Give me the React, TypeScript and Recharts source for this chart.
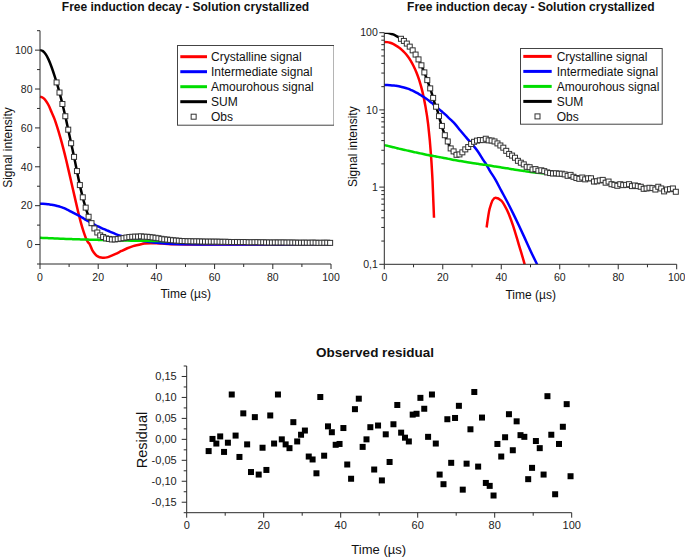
import React from "react";
import { ComposedChart, Line, Scatter, XAxis, YAxis } from "recharts";

const FONT = '"Liberation Sans", Arial, sans-serif';
const AXIS = "#2b2b2b";

// fitted curves, sampled in µs
const time = [
  0, 1, 2, 3, 4, 5, 6, 7, 8, 9, 10, 11, 12, 13, 14, 15, 16, 16.5, 17, 18, 19, 20, 21, 22, 23, 24,
  26, 28, 30, 32, 34, 35, 36, 38, 40, 42, 44, 46, 48, 50, 55, 60, 65, 70, 75, 80, 85, 90, 95, 100,
];
const crystalline = [
  76, 75.5, 74, 71.5, 68, 64.5, 60, 55, 49.5, 43.5, 37, 30.5, 24, 17.5, 11.5, 6.5, 2.5, 1.2, 0.4, -3,
  -5, -6.2, -6.7, -6.8, -6.6, -6.1, -4.8, -3.3, -1.9, -0.8, -0.1, 0.3, 0.52, 0.73, 0.67, 0.5, 0.32,
  0.18, 0.1, 0.05, 0.01, 0, 0, 0, 0, 0, 0, 0, 0, 0,
];
const intermediate = [
  21, 21, 20.9, 20.7, 20.5, 20.2, 19.8, 19.4, 18.9, 18.2, 17.5, 16.7, 15.9, 15.1, 14.3, 13.4, 12.5,
  12.1, 11.6, 10.8, 10, 9.3, 8.6, 7.9, 7.3, 6.7, 5.4, 4.4, 3.6, 2.9, 2.2, 1.93, 1.65, 1.25, 0.9, 0.65,
  0.46, 0.32, 0.22, 0.15, 0.06, 0.02, 0.01, 0.005, 0, 0, 0, 0, 0, 0,
];
const amorphous = [
  3.5, 3.43, 3.36, 3.29, 3.22, 3.15, 3.09, 3.03, 2.97, 2.91, 2.85, 2.8, 2.75, 2.7, 2.65, 2.6, 2.56,
  2.54, 2.52, 2.48, 2.44, 2.4, 2.36, 2.32, 2.28, 2.24, 2.18, 2.12, 2.05, 2.0, 1.95, 1.93, 1.9, 1.85,
  1.8, 1.75, 1.7, 1.65, 1.61, 1.57, 1.5, 1.43, 1.35, 1.26, 1.18, 1.1, 1.04, 0.99, 0.95, 0.91,
];
const sumFit = [
  100, 99.5, 97.8, 95, 91.2, 86.8, 82, 76.5, 70.5, 64, 57, 50, 43, 35.5, 28.5, 22.5, 17.5, 15.2, 13,
  10.2, 7.5, 5.6, 4.4, 3.6, 3.0, 2.7, 2.7, 3.1, 3.7, 4.1, 4.15, 4.12, 4.05, 3.85, 3.4, 2.9, 2.45,
  2.15, 1.92, 1.77, 1.56, 1.45, 1.36, 1.27, 1.18, 1.1, 1.04, 0.99, 0.95, 0.91,
];

// observed points and residual
const obsTime = [
  5.7, 6.7, 7.7, 8.7, 9.7, 10.7, 11.7, 12.7, 13.7, 14.7, 15.7, 16.7, 17.7, 18.7, 19.7, 20.7, 21.7,
  22.7, 23.7, 24.7, 25.7, 26.7, 27.7, 28.7, 29.7, 30.7, 31.7, 32.7, 33.7, 34.7, 35.7, 36.7, 37.7,
  38.7, 39.7, 40.7, 41.7, 42.7, 43.7, 44.7, 45.7, 46.7, 47.7, 48.7, 49.7, 50.7, 51.7, 52.7, 53.7,
  54.7, 55.7, 56.7, 57.7, 58.7, 59.7, 60.7, 61.7, 62.7, 63.7, 64.7, 65.7, 66.7, 67.7, 68.7, 69.7,
  70.7, 71.7, 72.7, 73.7, 74.7, 75.7, 76.7, 77.7, 78.7, 79.7, 80.7, 81.7, 82.7, 83.7, 84.7, 85.7,
  86.7, 87.7, 88.7, 89.7, 90.7, 91.7, 92.7, 93.7, 94.7, 95.7, 96.7, 97.7, 98.7, 99.7,
];
const observed = [
  83.4, 78.2, 72.3, 66, 59.1, 52.1, 45.1, 37.8, 30.6, 24.3, 19, 14.3, 11.0, 8.3, 6.2, 4.7, 3.9, 3.17,
  2.9, 2.62, 2.65, 2.82, 3.08, 3.3, 3.62, 3.86, 4.0, 4.07, 4.06, 4.23, 4.03, 4.01, 3.9, 3.68, 3.46,
  3.24, 2.95, 2.69, 2.56, 2.4, 2.19, 2.07, 1.97, 1.83, 1.81, 1.69, 1.71, 1.63, 1.65, 1.61, 1.55, 1.52,
  1.5, 1.51, 1.49, 1.49, 1.46, 1.4, 1.44, 1.36, 1.31, 1.28, 1.33, 1.26, 1.3, 1.3, 1.18, 1.19, 1.22,
  1.24, 1.14, 1.18, 1.09, 1.07, 1.04, 1.09, 1.06, 1.07, 1.09, 1.03, 1.05, 1.03, 1.01, 0.95, 0.96,
  0.98, 0.97, 0.93, 1.01, 0.96, 0.88, 0.93, 0.94, 0.96, 0.87,
];
const residual = [
  -0.028, 0.001, -0.01, 0.007, -0.03, -0.008, 0.107, 0.009, -0.042, 0.062, -0.012, -0.078, 0.053,
  -0.084, -0.02, -0.073, 0.057, -0.01, 0.107, 0.0, -0.012, -0.021, 0.041, -0.005, 0.011, 0.021,
  -0.041, -0.048, -0.081, 0.101, -0.039, 0.031, 0.017, -0.013, -0.011, 0.027, -0.06, -0.094, 0.072,
  0.097, -0.018, 0.0, 0.029, -0.072, 0.033, -0.098, 0.012, -0.054, 0.036, 0.082, 0.016, 0.004,
  -0.005, 0.059, 0.061, 0.099, 0.073, 0.006, 0.107, -0.01, -0.084, -0.107, 0.048, -0.056, 0.051,
  0.08, -0.12, -0.058, 0.024, 0.113, -0.065, 0.052, -0.104, -0.111, -0.134, -0.011, -0.041, 0.005,
  0.06, -0.026, 0.043, 0.01, 0.006, -0.095, -0.068, -0.004, -0.021, -0.084, 0.103, 0.011, -0.131,
  -0.011, 0.03, 0.084, -0.088,
];

// ticks
const timeTicks = [0, 10, 20, 30, 40, 50, 60, 70, 80, 90, 100];
const timeMajors = [0, 20, 40, 60, 80, 100];
const linTicks = [-10, 0, 10, 20, 30, 40, 50, 60, 70, 80, 90, 100, 110];
const linMajors = [0, 20, 40, 60, 80, 100];
const logTicks = [
  0.1, 0.2, 0.3, 0.4, 0.5, 0.6, 0.7, 0.8, 0.9, 1, 2, 3, 4, 5, 6, 7, 8, 9, 10, 20, 30, 40, 50, 60,
  70, 80, 90, 100,
];
const logMajors = [0.1, 1, 10, 100];
const resTicks = [
  -0.175, -0.15, -0.125, -0.1, -0.075, -0.05, -0.025, 0, 0.025, 0.05, 0.075, 0.1, 0.125, 0.15, 0.175,
];
const resMajors = [-0.15, -0.1, -0.05, 0, 0.05, 0.1, 0.15];

const series = [
  { key: "cryst", name: "Crystalline signal", color: "#ff0000" },
  { key: "inter", name: "Intermediate signal", color: "#0000ff" },
  { key: "amor", name: "Amourohous signal", color: "#00dd00" },
  { key: "sum", name: "SUM", color: "#000000" },
];

const curveRows = time.map((t, i) => ({
  t,
  cryst: crystalline[i],
  inter: intermediate[i],
  amor: amorphous[i],
  sum: sumFit[i],
}));
const pos = (v: number) => (v > 0 ? v : null);
const logRows = curveRows.map((r) => ({
  t: r.t,
  cryst: pos(r.cryst),
  inter: pos(r.inter),
  amor: pos(r.amor),
  sum: pos(r.sum),
}));
const obsRows = obsTime.map((t, i) => ({ t, obs: observed[i] }));
const residRows = obsTime.map((t, i) => ({ t, res: residual[i] }));

const commaNum = (v: number, digits?: number) =>
  (digits === undefined ? String(v) : v.toFixed(digits)).replace(".", ",");

function bottomTick(majors: number[], fontSize: number) {
  return (props: any) => {
    const { x, y, payload } = props;
    const major = majors.includes(payload.value);
    return (
      <g>
        <line x1={x} x2={x} y1={y} y2={y + (major ? 5 : 3)} stroke={AXIS} />
        {major && (
          <text x={x} y={y + 16.5} textAnchor="middle" fontSize={fontSize} fontFamily={FONT} fill="#222">
            {String(payload.value)}
          </text>
        )}
      </g>
    );
  };
}

function leftTick(majors: number[], fontSize: number, gap: number, fmt: (v: number) => string) {
  return (props: any) => {
    const { x, y, payload } = props;
    const major = majors.includes(payload.value);
    return (
      <g>
        <line x1={x} x2={x - (major ? 5 : 3)} y1={y} y2={y} stroke={AXIS} />
        {major && (
          <text
            x={x - gap}
            y={y + fontSize * 0.36}
            textAnchor="end"
            fontSize={fontSize}
            fontFamily={FONT}
            fill="#222"
          >
            {fmt(payload.value)}
          </text>
        )}
      </g>
    );
  };
}

const ObsSquare = (p: any) => (
  <rect x={p.cx - 2.5} y={p.cy - 2.5} width={5} height={5} fill="#fff" stroke="#333" strokeWidth={1} />
);
const ResSquare = (p: any) => <rect x={p.cx - 3} y={p.cy - 3} width={6} height={6} fill="#000" />;

function LegendBox({ left, top, width, height, rowTop, lineX0, lineX1, textX }: any) {
  const rows = [...series.map((s) => ({ name: s.name, color: s.color, obs: false })), { name: "Obs", color: "#333", obs: true }];
  return (
    <svg style={{ position: "absolute", left, top }} width={width} height={height}>
      <rect x={0.5} y={0.5} width={width - 1} height={height - 1} fill="#fff" stroke="#444" />
      {rows.map((r, i) => {
        const y = rowTop + i * 15;
        const mid = (lineX0 + lineX1) / 2;
        return (
          <g key={r.name}>
            {r.obs ? (
              <rect x={mid - 2.5} y={y - 2.5} width={5} height={5} fill="#fff" stroke="#333" />
            ) : (
              <line x1={lineX0} x2={lineX1} y1={y} y2={y} stroke={r.color} strokeWidth={3} />
            )}
            <text x={textX} y={y + 4.3} fontSize={12} fontFamily={FONT} fill="#111">
              {r.name}
            </text>
          </g>
        );
      })}
    </svg>
  );
}

function TopChart({ log }: { log: boolean }) {
  const left = log ? 44.3 : 40;
  const bottom = log ? 35.7 : 36;
  const margin = log ? { top: 32.7, right: 8.3, bottom: 0, left: 0 } : { top: 30.7, right: 9, bottom: 0, left: 0 };
  return (
    <ComposedChart width={log ? 345 : 340} height={300} data={log ? logRows : curveRows} margin={margin}>
      <XAxis
        type="number"
        dataKey="t"
        domain={[0, 100]}
        ticks={timeTicks}
        interval={0}
        tickSize={0}
        tickMargin={0}
        height={bottom}
        axisLine={{ stroke: AXIS }}
        tick={bottomTick(timeMajors, 10.5)}
      />
      {log ? (
        <YAxis
          type="number"
          scale="log"
          domain={[0.1, 100]}
          allowDataOverflow
          ticks={logTicks}
          interval={0}
          tickSize={0}
          tickMargin={0}
          width={left}
          axisLine={{ stroke: AXIS }}
          tick={leftTick(logMajors, 10.5, 6.5, (v) => commaNum(v))}
        />
      ) : (
        <YAxis
          type="number"
          domain={[-10, 110]}
          ticks={linTicks}
          interval={0}
          tickSize={0}
          tickMargin={0}
          width={left}
          axisLine={{ stroke: AXIS }}
          tick={leftTick(linMajors, 10.5, 7.5, (v) => String(v))}
        />
      )}
      {series.map((s) => (
        <Line
          key={s.key}
          type="monotone"
          dataKey={s.key}
          name={s.name}
          stroke={s.color}
          strokeWidth={2.5}
          dot={false}
          connectNulls={false}
          isAnimationActive={false}
        />
      ))}
      <Scatter data={obsRows} dataKey="obs" name="Obs" shape={ObsSquare} isAnimationActive={false} />
    </ComposedChart>
  );
}

function ResidualChart() {
  return (
    <ComposedChart width={460} height={217} data={residRows} margin={{ top: 26, right: 18.3, bottom: 0, left: 0 }}>
      <XAxis
        type="number"
        dataKey="t"
        domain={[0, 100]}
        ticks={timeTicks}
        interval={0}
        tickSize={0}
        tickMargin={0}
        height={44.3}
        axisLine={{ stroke: AXIS }}
        tick={bottomTick(timeMajors, 11)}
      />
      <YAxis
        type="number"
        domain={[-0.175, 0.175]}
        ticks={resTicks}
        interval={0}
        tickSize={0}
        tickMargin={0}
        width={56.7}
        axisLine={{ stroke: AXIS }}
        tick={leftTick(resMajors, 11, 10, (v) => commaNum(v, 2))}
      />
      <Scatter data={residRows} dataKey="res" name="Residual" shape={ResSquare} isAnimationActive={false} />
    </ComposedChart>
  );
}

export default function App() {
  const text = { fontFamily: FONT, fill: "#111" };
  return (
    <div style={{ position: "absolute", left: 0, top: 0, width: 685, height: 557, background: "#fff" }}>
      <div style={{ position: "absolute", left: 0, top: 0 }}>
        <TopChart log={false} />
      </div>
      <div style={{ position: "absolute", left: 340, top: 0 }}>
        <TopChart log />
      </div>
      <div style={{ position: "absolute", left: 130, top: 340 }}>
        <ResidualChart />
      </div>
      <LegendBox left={176.7} top={45} width={157.6} height={80.7} rowTop={11.7} lineX0={3.3} lineX1={30} textX={34} />
      <LegendBox left={520} top={48.3} width={142.7} height={76.7} rowTop={8.4} lineX0={3.3} lineX1={31.7} textX={36.7} />
      <svg style={{ position: "absolute", left: 0, top: 0, pointerEvents: "none" }} width={685} height={557}>
        <text x={185.5} y={11} textAnchor="middle" fontSize={12} fontWeight="bold" {...text}>
          Free induction decay - Solution crystallized
        </text>
        <text x={530.8} y={11} textAnchor="middle" fontSize={12} fontWeight="bold" {...text}>
          Free induction decay - Solution crystallized
        </text>
        <text transform="translate(11.6,147.5) rotate(-90)" textAnchor="middle" fontSize={12} {...text}>
          Signal intensity
        </text>
        <text transform="translate(357.3,146.7) rotate(-90)" textAnchor="middle" fontSize={12} {...text}>
          Signal intensity
        </text>
        <text x={185.7} y={298.3} textAnchor="middle" fontSize={12} {...text}>
          Time (µs)
        </text>
        <text x={530.7} y={298.5} textAnchor="middle" fontSize={12} {...text}>
          Time (µs)
        </text>
        <text x={375} y={356.6} textAnchor="middle" fontSize={13.5} fontWeight="bold" {...text}>
          Observed residual
        </text>
        <text transform="translate(146.9,440) rotate(-90)" textAnchor="middle" fontSize={14.5} {...text}>
          Residual
        </text>
        <text x={378.7} y={554} textAnchor="middle" fontSize={13} {...text}>
          Time (µs)
        </text>
      </svg>
    </div>
  );
}
